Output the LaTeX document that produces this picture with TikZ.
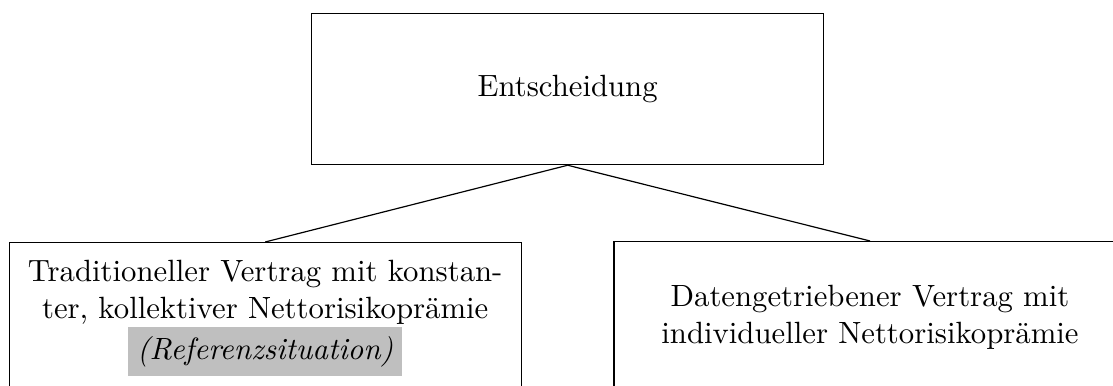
\documentclass[tikz,border=0pt]{standalone}
\usepackage{fontspec}
\usepackage{xcolor}
% grey highlight behind a short text
\newcommand{\greymark}[1]{\colorbox{lightgray}{#1}}
\tikzset{
  choicebox/.style={draw, rectangle, inner sep=0pt, align=center,
    font=\fontsize{10.35pt}{12.42pt}\selectfont,
    minimum width=172.4pt, minimum height=50.8pt},
  branch/.style={draw}
}
\begin{document}
\begin{tikzpicture}[x=0.3367pt, y=-0.3367pt]
  \clip (0,0) rectangle (1113,385);
  \node[choicebox] (root) at (567.7,89.2) {Entscheidung};
  \node[choicebox] (trad) at (265.2,318)
    {Traditioneller Vertrag mit konstan-\\ter, kollektiver Nettorisikoprämie\\\greymark{\textit{(Referenzsituation)}}};
  \node[choicebox] (data) at (870,317)
    {Datengetriebener Vertrag mit\\individueller Nettorisikoprämie};
  \draw[branch] (root.south) -- (trad.north);
  \draw[branch] (root.south) -- (data.north);
\end{tikzpicture}
\end{document}
